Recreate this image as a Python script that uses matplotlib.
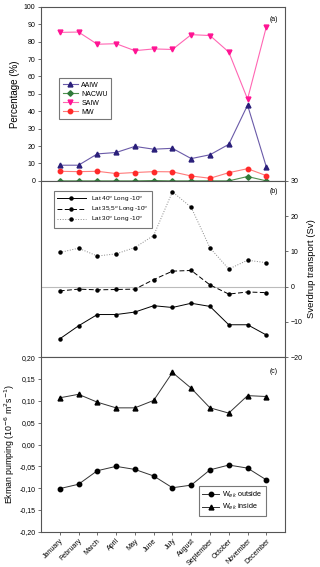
import numpy as np
import matplotlib
matplotlib.use('Agg')
import matplotlib.pyplot as plt
from matplotlib.ticker import FuncFormatter

plt.rcParams['font.family'] = ['Liberation Sans', 'DejaVu Sans']
plt.rcParams['font.size'] = 5

months = ['January', 'February', 'March', 'April', 'May', 'June', 'July',
          'August', 'September', 'October', 'November', 'December']

# (a) water mass percentages
aaiw = [9, 9, 15.5, 16.3, 19.8, 18.2, 18.7, 12.8, 15, 21, 43.5, 8]
nacwu = [0, 0, 0, 0, 0, 0.2, 0, 0, 0, 0, 2.5, 0]
saiw = [85.3, 85.5, 78.5, 78.8, 74.8, 75.8, 75.5, 84, 83.5, 74, 47, 88.5]
mw = [5.5, 5.3, 5.5, 4.2, 4.8, 5.3, 5.2, 2.8, 1.5, 4.7, 7, 3]

# (b) Sverdrup transport (Sv)
lat40 = [-14.8, -11.1, -7.9, -7.9, -7.2, -5.4, -5.9, -4.7, -5.6, -10.8, -10.8, -13.7]
lat355 = [-1.2, -0.7, -0.9, -0.8, -0.7, 2.0, 4.4, 4.6, 0.5, -2.1, -1.5, -1.7]
lat30 = [9.7, 10.9, 8.7, 9.3, 11.1, 14.5, 26.9, 22.5, 11.0, 5.0, 7.5, 6.8]

# (c) Ekman pumping
we_outside = [-0.101, -0.091, -0.060, -0.050, -0.057, -0.072, -0.099, -0.093,
              -0.058, -0.047, -0.054, -0.081]
we_inside = [0.107, 0.115, 0.097, 0.084, 0.084, 0.101, 0.165, 0.129,
             0.084, 0.072, 0.112, 0.110]

x = np.arange(len(months))
frame = '#555555'

fig = plt.figure(figsize=(3.2, 5.67), dpi=100)
L, W = 0.128, 0.763
ax1 = fig.add_axes([L, 0.681, W, 0.307])
ax2 = fig.add_axes([L, 0.370, W, 0.311])
ax3 = fig.add_axes([L, 0.062, W, 0.308])

for ax in (ax1, ax2, ax3):
    ax.set_xlim(-1, 12)
    for s in ax.spines.values():
        s.set_color(frame)
        s.set_linewidth(0.8)
    ax.tick_params(direction='out', length=2.5, width=0.6, color=frame,
                   labelsize=5, pad=1.5)
    ax.set_xticks(x)

# panel a
ax1.plot(x, aaiw, '-', color='#6a5aa8', lw=0.8, marker='^', ms=3.5,
         mfc='#2a1f7a', mec='#2a1f7a', label='AAIW')
ax1.plot(x, nacwu, '-', color='#4f8f4f', lw=0.8, marker='D', ms=2.8,
         mfc='#2f7a3a', mec='#2f7a3a', label='NACWU')
ax1.plot(x, saiw, '-', color='#ff66b3', lw=0.8, marker='v', ms=3.5,
         mfc='#ff1493', mec='#ff1493', label='SAIW')
ax1.plot(x, mw, '-', color='#ff7a7a', lw=0.8, marker='o', ms=3.2,
         mfc='#ff2a2a', mec='#ff2a2a', label='MW')
ax1.set_ylim(0, 100)
ax1.set_yticks(np.arange(0, 101, 10))
ax1.set_xticklabels([])
ax1.set_ylabel('Percentage (%)', fontsize=7, labelpad=3)
ax1.text(0.97, 0.95, '(a)', transform=ax1.transAxes, ha='right', va='top', fontsize=5)
leg = ax1.legend(loc='upper left', bbox_to_anchor=(0.06, 0.61), fontsize=5,
                 frameon=True, fancybox=False, edgecolor=frame,
                 handlelength=2.2, handletextpad=0.5, borderpad=0.5,
                 labelspacing=0.3)
leg.get_frame().set_linewidth(0.8)

# panel b
ax2.axhline(0, color='#bbbbbb', lw=0.8)
ax2.plot(x, lat40, '-', color='black', lw=0.7, marker='o', ms=2.2,
         label='Lat 40$^o$ Long -10$^o$')
ax2.plot(x, lat355, '--', color='black', lw=0.7, marker='o', ms=2.2,
         dashes=(5, 2.5), label='Lat 35,5$^o$ Long -10$^o$')
ax2.plot(x, lat30, ':', color='#888888', lw=0.7, marker='o', ms=2.2,
         mfc='black', mec='black', label='Lat 30$^o$ Long -10$^o$')
ax2.set_ylim(-20, 30)
ax2.yaxis.tick_right()
ax2.yaxis.set_label_position('right')
ax2.set_yticks(np.arange(-20, 31, 10))
ax2.set_xticklabels([])
ax2.tick_params(axis='x', length=0)
ax2.set_ylabel('Sverdrup transport (Sv)', fontsize=6.8, labelpad=3)
ax2.text(0.97, 0.96, '(b)', transform=ax2.transAxes, ha='right', va='top', fontsize=5)
leg = ax2.legend(loc='upper left', bbox_to_anchor=(0.04, 0.96), fontsize=4.6,
                 frameon=True, fancybox=False, edgecolor=frame,
                 handlelength=4.5, borderpad=0.5, labelspacing=0.2)
leg.get_frame().set_linewidth(0.8)

# panel c
ax3.plot(x, we_outside, '-', color='#333333', lw=0.7, marker='o', ms=3.2,
         mfc='black', mec='black', label='W$_{ek}$ outside')
ax3.plot(x, we_inside, '-', color='#333333', lw=0.7, marker='^', ms=3.5,
         mfc='black', mec='black', label='W$_{ek}$ inside')
ax3.set_ylim(-0.2, 0.2)
ax3.set_yticks(np.arange(-0.20, 0.201, 0.05))
ax3.yaxis.set_major_formatter(FuncFormatter(lambda v, p: ('%.2f' % v).replace('.', ',').replace('-0,00', '0,00')))
ax3.set_xticklabels(months, rotation=45, ha='right', rotation_mode='anchor', fontsize=5)
ax3.set_ylabel('Ekman pumping (10$^{-6}$ m$^{2}$s$^{-1}$)', fontsize=6.3, labelpad=2)
ax3.text(0.97, 0.94, '(c)', transform=ax3.transAxes, ha='right', va='top', fontsize=5)
leg = ax3.legend(loc='lower right', bbox_to_anchor=(0.935, 0.07), fontsize=5.2,
                 frameon=True, fancybox=False, edgecolor=frame,
                 handlelength=2.3, handletextpad=0.4, borderpad=0.5,
                 labelspacing=0.3)
leg.get_frame().set_linewidth(0.8)

fig.savefig('out.png', dpi=100)
